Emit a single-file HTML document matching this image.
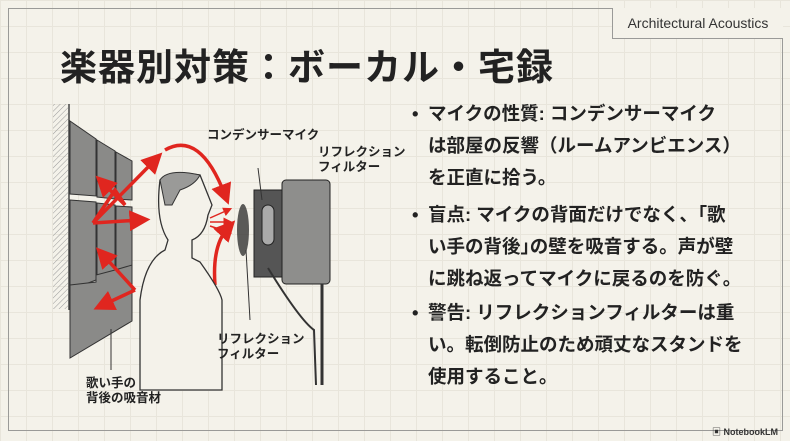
<!DOCTYPE html>
<html><head><meta charset="utf-8"><style>
html,body{margin:0;padding:0}
body{width:790px;height:441px;overflow:hidden;position:relative;background:#f4f2ea;font-family:"Liberation Sans","Noto Sans CJK JP",sans-serif;
background-image:linear-gradient(#e8e5db 1px,transparent 1px),linear-gradient(90deg,#e8e5db 1px,transparent 1px);background-size:26px 26px}
.frame{position:absolute;left:8px;top:8px;width:773px;height:421px;border:1.5px solid #9a9a98}
.tag{position:absolute;left:612px;top:8px;width:170px;height:30px;border-left:1.5px solid #9a9a98;border-bottom:1.5px solid #9a9a98;font-size:14px;color:#333;line-height:30px;text-align:center;background:#f4f2ea}
h1{position:absolute;left:60px;top:37px;margin:0;font-size:37px;font-weight:bold;color:#222;letter-spacing:1px}
.b{position:absolute;left:412px;font-size:18.5px;font-weight:bold;color:#222;line-height:32px;width:370px}
.b span{position:absolute;left:0}
.b div{margin-left:16px}
.lbl{position:absolute;font-size:12.5px;font-weight:bold;color:#222;line-height:15px}
.nb{position:absolute;right:12px;bottom:3px;font-size:9px;font-weight:bold;color:#333}
</style></head><body>
<div class="frame"></div>
<div class="tag">Architectural Acoustics</div>
<h1>楽器別対策：ボーカル・宅録</h1>
<div class="b" style="top:98px"><span>•</span><div>マイクの性質: コンデンサーマイク<br>は部屋の反響（ルームアンビエンス）<br>を正直に拾う。</div></div>
<div class="b" style="top:199px"><span>•</span><div>盲点: マイクの背面だけでなく、｢歌<br>い手の背後｣の壁を吸音する。声が壁<br>に跳ね返ってマイクに戻るのを防ぐ。</div></div>
<div class="b" style="top:297px"><span>•</span><div>警告: リフレクションフィルターは重<br>い。転倒防止のため頑丈なスタンドを<br>使用すること。</div></div>
<svg style="position:absolute;left:0;top:0" width="790" height="441">
<defs><pattern id="h" width="4" height="4" patternUnits="userSpaceOnUse" patternTransform="rotate(45)"><line x1="0" y1="0" x2="0" y2="4" stroke="#999" stroke-width="1"/></pattern>
<marker id="a" markerWidth="6" markerHeight="6" refX="3" refY="3" orient="auto"><path d="M0,0L6,3L0,6z" fill="#e0261f"/></marker></defs>
<rect x="53" y="104" width="15" height="205" fill="url(#h)"/>
<line x1="69" y1="104" x2="69" y2="310" stroke="#444" stroke-width="1.5"/>
<g fill="#8a8a88" stroke="#333" stroke-width="1">
<path d="M70,121 L96,139 L96,196 L70,194z"/><path d="M97,140 L115,151 L115,199 L97,197z"/><path d="M116,152 L132,161 L132,200 L116,199z"/>
<path d="M70,200 L96,202 L96,280 L70,290z"/><path d="M97,203 L115,205 L115,274 L97,280z"/><path d="M116,206 L132,207 L132,268 L116,274z"/>
<path d="M70,285 L96,282 L96,275 L115,270 L132,265 L132,321 L70,358z"/>
</g>
<g fill="none" stroke="#e0261f" stroke-width="3.5" marker-end="url(#a)">
<path d="M93,223 L155,160"/><path d="M93,223 L140,220"/><path d="M93,223 L115,190 L125,205 L103,183"/>
<path d="M135,290 L103,255"/><path d="M135,290 L103,305"/>
<path d="M165,150 Q200,130 225,195"/><path d="M215,285 Q212,245 228,228"/>
</g>
<g stroke="#e0261f" stroke-width="1.5" marker-end="url(#a)"><line x1="210" y1="218" x2="228" y2="210"/><line x1="210" y1="222" x2="228" y2="222"/><line x1="210" y1="226" x2="228" y2="232"/></g>
<path d="M160,180 Q170,170 200,175 Q210,200 212,205 L208,215 Q205,235 192,240 L192,258 L200,262 Q220,290 222,300 L222,390 L140,390 L140,300 Q145,260 165,250 L168,240 Q155,220 160,180z" fill="#f4f2ea" stroke="#333" stroke-width="1.3"/>
<path d="M160,180 Q168,168 200,175 Q195,185 180,190 L172,205 L165,205z" fill="#9a9a98" stroke="#333"/>
<ellipse cx="243" cy="230" rx="6" ry="26" fill="#333" opacity="0.8"/>
<rect x="254" y="190" width="28" height="87" fill="#555" stroke="#222"/>
<rect x="282" y="180" width="48" height="104" rx="4" fill="#8e8e8c" stroke="#222"/>
<rect x="262" y="205" width="12" height="40" rx="6" fill="#aaa" stroke="#222"/>
<line x1="322" y1="284" x2="322" y2="385" stroke="#333" stroke-width="3"/>
<path d="M268,268 Q300,320 314,330 L316,385" fill="none" stroke="#333" stroke-width="2"/>
<line x1="258" y1="168" x2="262" y2="200" stroke="#333"/><line x1="111" y1="329" x2="111" y2="370" stroke="#333"/>
<line x1="246" y1="250" x2="250" y2="320" stroke="#333"/>
</svg>
<div class="lbl" style="left:207px;top:128px">コンデンサーマイク</div>
<div class="lbl" style="left:318px;top:145px">リフレクション<br>フィルター</div>
<div class="lbl" style="left:217px;top:332px">リフレクション<br>フィルター</div>
<div class="lbl" style="left:86px;top:376px">歌い手の<br>背後の吸音材</div>
<div class="nb">▣ NotebookLM</div>
</body></html>
